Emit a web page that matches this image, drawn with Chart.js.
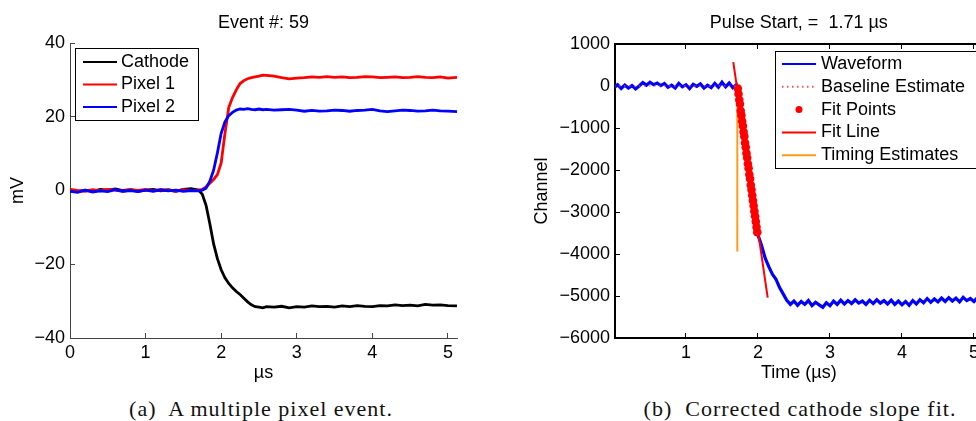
<!DOCTYPE html>
<html>
<head>
<meta charset="utf-8">
<script src="https://cdn.jsdelivr.net/npm/chart.js@4.4.1/dist/chart.umd.min.js"></script>
<style>
html, body { margin: 0; padding: 0; background: #fff; }
body { width: 976px; height: 421px; overflow: hidden; position: relative; }
#eventChart { position: absolute; left: 0; top: 0; }
#fitChart { position: absolute; left: 490px; top: 0; }
.caption { position: absolute; top: 396px; font-family: "Liberation Serif", "DejaVu Serif", serif; font-size: 22px; letter-spacing: 1px; color: #111; white-space: pre; transform: translateX(-50%); }
</style>
</head>
<body>
<canvas id="eventChart" width="480" height="390"></canvas>
<canvas id="fitChart" width="510" height="390"></canvas>
<div class="caption" style="left:261px">(a)  A multiple pixel event.</div>
<div class="caption" style="left:800px">(b)  Corrected cathode slope fit.</div>
<script>
// (a) event 59, three channels in mV
var eventTime = [0, 0.1, 0.2, 0.3, 0.4, 0.5, 0.6, 0.7, 0.8, 0.9, 1.0, 1.1, 1.2, 1.3, 1.4, 1.5, 1.6, 1.7,
    1.75, 1.8, 1.85, 1.9, 1.95, 2.0, 2.05, 2.1, 2.15, 2.2, 2.25, 2.3, 2.35, 2.4, 2.45, 2.5, 2.55, 2.6,
    2.7, 2.8, 2.9, 3.0, 3.1, 3.2, 3.3, 3.4, 3.5, 3.6, 3.7, 3.8, 3.9, 4.0, 4.1, 4.2, 4.3, 4.4, 4.5, 4.6, 4.7, 4.8, 4.9, 5.0, 5.12];
var cathode = [0.2, -0.3, 0.1, -0.2, 0.3, 0.1, 0.4, 0.0, 0.2, -0.2, 0.1, 0.3, -0.1, 0.2, -0.2, 0.3, 0.5, 0.1,
    -1.0, -4.0, -9.0, -14.5, -18.5, -21.5, -23.7, -25.2, -26.4, -27.4, -28.2, -29.2, -30.2, -31.0, -31.5, -31.6, -31.8, -31.5,
    -31.6, -31.4, -31.8, -31.5, -31.6, -31.3, -31.5, -31.4, -31.6, -31.3, -31.5, -31.2, -31.4, -31.5, -31.2, -31.3, -31.0, -31.2, -31.1, -31.3, -30.9, -31.1, -31.0, -31.2, -31.3];
var pixel1 = [0.3, 0.0, -0.2, 0.2, -0.1, 0.3, 0.1, -0.2, 0.2, 0.0, 0.3, -0.1, 0.2, 0.1, -0.2, 0.2, 0.0, 0.1,
    0.3, 1.0, 2.0, 3.0, 4.3, 7.5, 15.5, 22.5, 25.2, 27.3, 29.0, 29.8, 30.3, 30.6, 30.8, 31.0, 31.3, 31.2,
    31.0, 30.6, 30.3, 30.5, 30.6, 30.8, 30.7, 30.9, 30.7, 30.8, 30.6, 30.7, 30.9, 30.8, 30.6, 30.7, 30.8, 30.6, 30.7, 30.9, 30.7, 30.6, 30.8, 30.5, 30.7];
var pixel2 = [-0.2, -0.5, 0.1, -0.4, -0.1, -0.3, 0.2, -0.2, 0.0, -0.3, 0.1, -0.2, 0.2, -0.1, 0.1, -0.2, 0.0, -0.1,
    0.1, 0.6, 2.5, 5.5, 10.2, 15.5, 18.6, 20.3, 21.2, 21.8, 22.1, 22.0, 22.2, 22.0, 21.9, 22.1, 21.9, 22.0,
    21.8, 21.9, 22.0, 21.8, 21.5, 21.7, 21.5, 21.6, 21.8, 21.7, 21.5, 21.7, 21.8, 22.0, 21.6, 21.4, 21.6, 21.8, 21.7, 21.5, 21.6, 21.8, 21.6, 21.5, 21.4];
var eventXTicks = [0, 1, 2, 3, 4, 5];
var eventYTicks = [-40, -20, 0, 20, 40];

// (b) cathode waveform and slope fit, in channels
var waveTime = [0, 0.05, 0.1, 0.15, 0.2, 0.25, 0.3, 0.35, 0.4, 0.45, 0.5, 0.55, 0.6, 0.65, 0.7, 0.75, 0.8, 0.85, 0.9, 0.95,
    1.0, 1.05, 1.1, 1.15, 1.2, 1.25, 1.3, 1.35, 1.4, 1.45, 1.5, 1.55, 1.6, 1.65, 1.7, 1.71,
    1.75, 1.8, 1.85, 1.9, 1.95, 2.0, 2.05, 2.1, 2.15, 2.2, 2.25, 2.3, 2.35, 2.4, 2.45,
    2.5, 2.55, 2.6, 2.65, 2.7, 2.75, 2.8, 2.85, 2.9, 2.95, 3.0, 3.05, 3.1, 3.15, 3.2, 3.25, 3.3, 3.35, 3.4, 3.45,
    3.5, 3.55, 3.6, 3.65, 3.7, 3.75, 3.8, 3.85, 3.9, 3.95, 4.0, 4.05, 4.1, 4.15, 4.2, 4.25, 4.3, 4.35, 4.4, 4.45,
    4.5, 4.55, 4.6, 4.65, 4.7, 4.75, 4.8, 4.85, 4.9, 4.95, 5.0, 5.05, 5.1];
var waveValue = [-40, 30, -60, 20, -50, 10, -70, 0, 80, 20, 90, 30, 70, 10, 60, -30, 20, -50, 60, -20,
    30, -60, 40, -10, 50, -50, 20, -40, 60, -30, 90, -20, 70, -40, 30, -20,
    -500, -1150, -1790, -2420, -3040, -3550, -3800, -4100, -4300, -4480, -4600, -4800, -4950, -5100, -5200,
    -5120, -5220, -5130, -5200, -5110, -5230, -5150, -5210, -5270, -5160, -5230, -5120, -5200, -5100, -5190, -5110, -5180, -5090, -5170, -5120,
    -5200, -5100, -5180, -5090, -5170, -5110, -5190, -5100, -5200, -5120, -5210, -5130, -5220, -5110, -5190, -5090, -5160, -5060, -5150, -5070,
    -5140, -5050, -5130, -5040, -5120, -5050, -5140, -5030, -5110, -5060, -5130, -5040, -5100];
var baselineTime = [0, 1.713];
var baselineValue = [0, 0];
var fitPointTime = [1.72, 1.73, 1.74, 1.75, 1.76, 1.77, 1.78, 1.79, 1.80, 1.81, 1.82, 1.83, 1.84, 1.85,
    1.86, 1.87, 1.88, 1.89, 1.90, 1.91, 1.92, 1.93, 1.94, 1.95, 1.96, 1.97, 1.98, 1.99];
var fitPointValue = [-60, -190, -330, -430, -590, -700, -840, -950, -1090, -1200, -1350, -1460, -1600, -1710,
    -1850, -1960, -2110, -2210, -2360, -2470, -2600, -2730, -2850, -2980, -3100, -3230, -3360, -3480];
var fitLineTime = [1.657, 2.135];
var fitLineValue = [570, -5040];
var timingTime = [1.713, 1.713];
var timingValue = [-50, -3940];
var fitXTicks = [1, 2, 3, 4, 5];
var fitYTicks = [-6000, -5000, -4000, -3000, -2000, -1000, 0, 1000];

Chart.defaults.font.family = "'Liberation Sans', Arial, sans-serif";
Chart.defaults.color = '#000';

function pts(xs, ys) {
    return xs.map(function (x, i) { return { x: x, y: ys[i] }; });
}
function minus(v) {
    return String(v).replace('-', '\u2212');
}
function fixedTicks(list) {
    return function (scale) {
        scale.ticks = list.map(function (v) { return { value: v }; });
    };
}

// legend drawn inside the plot, with a box round it, like the matlab one
var boxLegend = {
    id: 'boxLegend',
    afterDraw: function (chart, args, o) {
        var ctx = chart.ctx;
        var x = chart.chartArea.left + o.dx;
        var y = chart.chartArea.top + o.dy;
        ctx.save();
        ctx.fillStyle = '#fff';
        ctx.fillRect(x, y, o.width, o.height);
        ctx.strokeStyle = '#000';
        ctx.lineWidth = 1;
        ctx.strokeRect(x + 0.5, y + 0.5, o.width, o.height);
        ctx.font = o.font;
        ctx.textBaseline = 'middle';
        chart.data.datasets.forEach(function (ds, i) {
            var cy = y + o.firstRow + i * o.rowHeight;
            if (ds.showLine === false) {
                ctx.beginPath();
                ctx.fillStyle = ds.backgroundColor;
                ctx.arc(x + o.sampleX + o.sampleW / 2, cy, 3.5, 0, 2 * Math.PI);
                ctx.fill();
            } else {
                ctx.beginPath();
                ctx.strokeStyle = ds.borderColor;
                ctx.lineWidth = 2;
                ctx.setLineDash(ds.borderDash || []);
                ctx.moveTo(x + o.sampleX, cy);
                ctx.lineTo(x + o.sampleX + o.sampleW, cy);
                ctx.stroke();
                ctx.setLineDash([]);
            }
            ctx.fillStyle = '#000';
            ctx.fillText(ds.label, x + o.textX, cy);
        });
        ctx.restore();
    }
};

var tickFont = { size: 18 };

new Chart(document.getElementById('eventChart'), {
    type: 'line',
    data: {
        datasets: [
            { label: 'Cathode', data: pts(eventTime, cathode), borderColor: '#000', borderWidth: 2.8, pointRadius: 0, order: 3 },
            { label: 'Pixel 1', data: pts(eventTime, pixel1), borderColor: '#ff0000', borderWidth: 2.8, pointRadius: 0, order: 2 },
            { label: 'Pixel 2', data: pts(eventTime, pixel2), borderColor: '#0000ff', borderWidth: 2.8, pointRadius: 0, order: 1 }
        ]
    },
    options: {
        responsive: false,
        animation: false,
        layout: { padding: { left: 0, right: 23, top: 0, bottom: 0 } },
        plugins: {
            legend: { display: false },
            tooltip: { enabled: false },
            title: { display: true, text: 'Event #: 59', fullSize: false, font: { size: 18, weight: 'normal' }, padding: { top: 12, bottom: 9.4 } },
            boxLegend: { dx: 5, dy: 5, width: 123, height: 72, firstRow: 14, rowHeight: 22.5, sampleX: 8, sampleW: 34, textX: 46, font: "18px 'Liberation Sans', Arial, sans-serif" }
        },
        scales: {
            x: {
                type: 'linear', min: 0, max: 5.12,
                afterBuildTicks: fixedTicks(eventXTicks),
                afterFit: function (s) { s.height = 52; },
                grid: { drawOnChartArea: false, tickLength: -5, color: '#444' },
                border: { color: '#444', width: 1 },
                ticks: { font: tickFont, padding: 9, autoSkip: false, maxRotation: 0, callback: minus },
                title: { display: true, text: 'µs', font: { size: 18 }, padding: { top: 0, bottom: 6 } }
            },
            y: {
                min: -40, max: 40,
                afterBuildTicks: fixedTicks(eventYTicks),
                afterFit: function (s) { s.width = 70; },
                grid: { drawOnChartArea: false, tickLength: -5, color: '#444' },
                border: { color: '#444', width: 1 },
                ticks: { font: tickFont, padding: 10, autoSkip: false, callback: minus },
                title: { display: true, text: 'mV', font: { size: 18 }, padding: { top: 7, bottom: 0 } }
            }
        }
    },
    plugins: [boxLegend]
});

new Chart(document.getElementById('fitChart'), {
    type: 'line',
    data: {
        datasets: [
            { label: 'Waveform', data: pts(waveTime, waveValue), borderColor: '#0000ff', borderWidth: 3.2, pointRadius: 0, order: 5 },
            { label: 'Baseline Estimate', data: pts(baselineTime, baselineValue), borderColor: '#ff5050', borderWidth: 1.2, borderDash: [1.5, 3.5], pointRadius: 0, order: 1 },
            { label: 'Fit Points', data: pts(fitPointTime, fitPointValue), showLine: false, pointRadius: 4.3, pointStyle: 'circle', backgroundColor: '#ff0000', borderColor: '#ff0000', borderWidth: 0, order: 3 },
            { label: 'Fit Line', data: pts(fitLineTime, fitLineValue), borderColor: '#ff0000', borderWidth: 2, pointRadius: 0, order: 2 },
            { label: 'Timing Estimates', data: pts(timingTime, timingValue), borderColor: '#ff9a1a', borderWidth: 2, pointRadius: 0, order: 4 }
        ]
    },
    options: {
        responsive: false,
        animation: false,
        layout: { padding: { left: 0, right: 17.4, top: 0, bottom: 0 } },
        plugins: {
            legend: { display: false },
            tooltip: { enabled: false },
            title: { display: true, text: 'Pulse Start, =  1.71 µs', fullSize: false, font: { size: 18, weight: 'normal' }, padding: { top: 12, bottom: 10.4 } },
            boxLegend: { dx: 160, dy: 7, width: 215, height: 117, firstRow: 13, rowHeight: 22.8, sampleX: 7, sampleW: 34, textX: 46, font: "18px 'Liberation Sans', Arial, sans-serif" }
        },
        scales: {
            x: {
                type: 'linear', min: 0.014, max: 5.12,
                afterBuildTicks: fixedTicks(fitXTicks),
                afterFit: function (s) { s.height = 52; },
                grid: { drawOnChartArea: false, tickLength: -5, color: '#000' },
                border: { color: '#000', width: 2 },
                ticks: { font: tickFont, padding: 9, autoSkip: false, maxRotation: 0, callback: minus },
                title: { display: true, text: 'Time (µs)', font: { size: 18 }, padding: { top: 0, bottom: 6 } }
            },
            xTop: {
                type: 'linear', position: 'top', min: 0.014, max: 5.12,
                afterBuildTicks: fixedTicks(fitXTicks),
                afterFit: function (s) { s.height = 0; },
                grid: { drawOnChartArea: false, tickLength: -5, color: '#000' },
                border: { color: '#000', width: 2 },
                ticks: { display: false }
            },
            y: {
                min: -6000, max: 1000,
                afterBuildTicks: fixedTicks(fitYTicks),
                afterFit: function (s) { s.width = 125; },
                grid: { drawOnChartArea: false, tickLength: -5, color: '#000' },
                border: { color: '#000', width: 2 },
                ticks: { font: tickFont, padding: 10, autoSkip: false, callback: minus },
                title: { display: true, text: 'Channel', font: { size: 18 }, padding: { top: 41, bottom: 0 } }
            }
        }
    },
    plugins: [boxLegend]
});
</script>
</body>
</html>
